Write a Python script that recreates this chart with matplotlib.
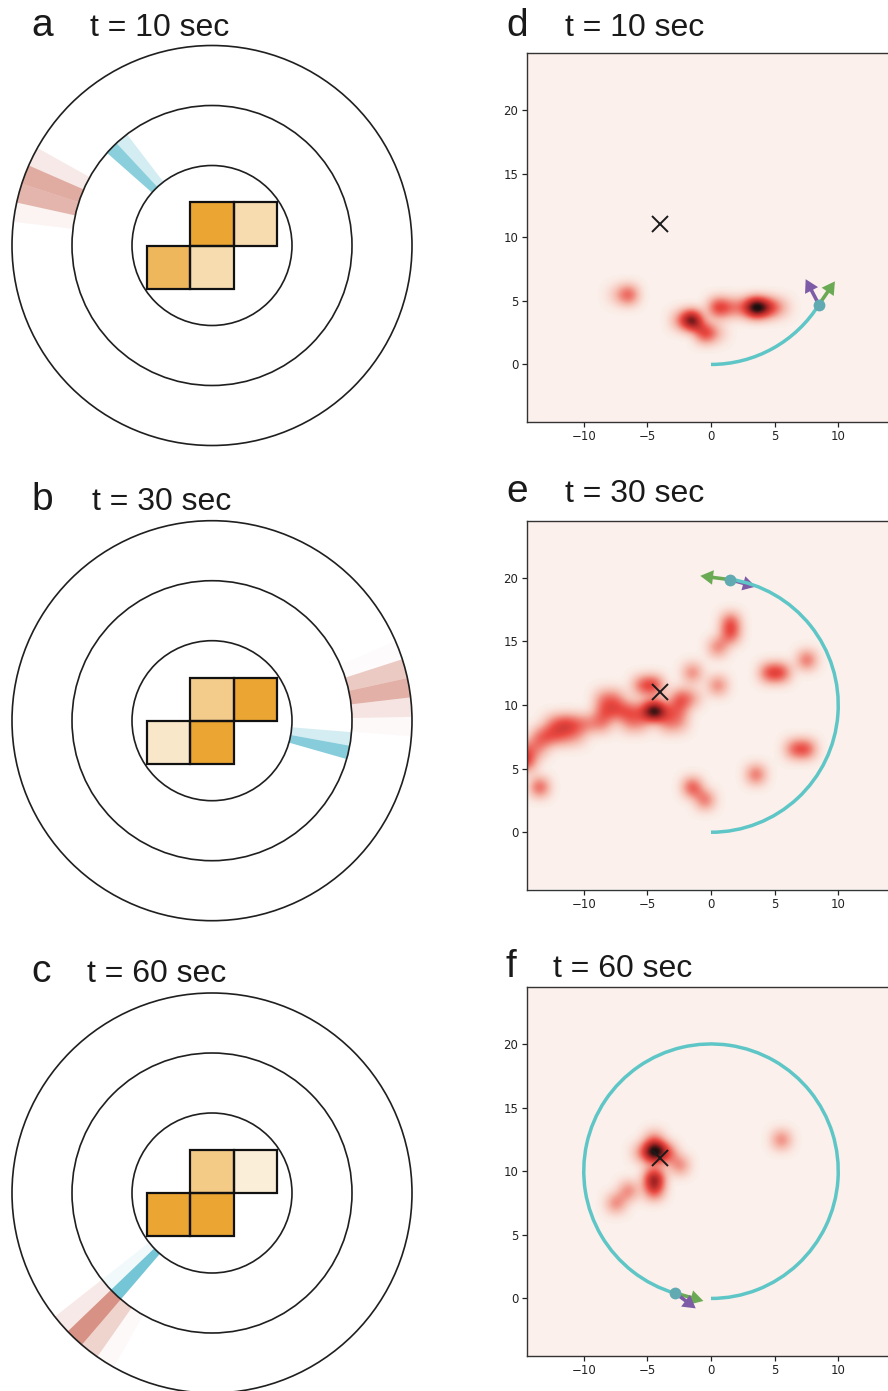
import numpy as np
import matplotlib
matplotlib.use('Agg')
import matplotlib.pyplot as plt
from matplotlib.patches import Circle, Rectangle, Wedge, Arc
from matplotlib.colors import LinearSegmentedColormap

# ---------------- data ----------------
time_labels = ['t = 10 sec', 't = 30 sec', 't = 60 sec']
left_letters = ['a', 'b', 'c']
right_letters = ['d', 'e', 'f']

ring_radii = [4, 7, 10]
square_size = 2.16
# lower-left corners of the four squares, in square units: top-mid, top-right, bottom-left, bottom-mid
square_cells = [(-0.5, 0), (0.5, 0), (-1.5, -1), (-0.5, -1)]
square_alpha = [[1.0, 0.39, 0.8, 0.39],
                [0.56, 1.0, 0.26, 1.0],
                [0.59, 0.19, 1.0, 1.0]]

bin_width = 5.6
blue_start = [127.4, -15.9, 218.2]
blue_alpha = [[0.22, 0.60], [0.63, 0.22], [0.07, 0.72]]
red_start = [150.8, -4.5, 218.2]
red_alpha = [[0.12, 0.48, 0.42, 0.06],
             [0.03, 0.15, 0.45, 0.30, 0.02],
             [0.12, 0.62, 0.25, 0.03]]

# heat-map cells (x centre, y centre, value)
heat_d_x = [-7.5, -6.5, 0.5, 1.5, 2.5, 3.5, 4.5, 5.5, -2.5, -1.5, -0.5, 0.5]
heat_d_y = [5.5, 5.5, 4.5, 4.5, 4.5, 4.5, 4.5, 4.5, 3.5, 3.5, 2.5, 2.5]
heat_d_v = [0.12, 0.42, 0.5, 0.28, 0.28, 0.95, 0.5, 0.18, 0.25, 0.85, 0.5, 0.15]

heat_e_x = [-13.5, -14.5, -14.5, -13.5, -13.5, -12.5, -12.5, -11.5, -11.5, -10.5, -10.5,
            -9.5, -8.5, -8.5, -8.5, -7.5, -7.5, -6.5, -6.5, -5.5, -5.5, -4.5,
            -5.5, -4.5, -3.5, -3.5, -2.5, -2.5, -1.5, -2.5,
            -1.5, 0.5, 0.5, 1.5, 1.5, 4.5, 5.5, 7.5, 6.5, 7.5, 3.5, -1.5, -0.5]
heat_e_y = [3.5, 5.5, 6.5, 6.5, 7.5, 7.5, 8.5, 8.5, 7.5, 8.5, 7.5,
            8.5, 8.5, 9.5, 10.5, 9.5, 10.5, 9.5, 8.5, 9.5, 8.5, 9.5,
            11.5, 11.5, 8.5, 9.5, 9.5, 10.5, 10.5, 8.5,
            12.5, 11.5, 14.5, 15.5, 16.5, 12.5, 12.5, 13.5, 6.5, 6.5, 4.5, 3.5, 2.5]
heat_e_v = [0.42, 0.4, 0.25, 0.2, 0.3, 0.32, 0.25, 0.38, 0.25, 0.28, 0.18,
            0.22, 0.26, 0.3, 0.24, 0.32, 0.25, 0.32, 0.22, 0.26, 0.2, 0.9,
            0.35, 0.45, 0.24, 0.26, 0.26, 0.36, 0.22, 0.2,
            0.32, 0.32, 0.32, 0.4, 0.4, 0.42, 0.42, 0.38, 0.36, 0.4, 0.38, 0.45, 0.36]

heat_f_x = [-4.5, -4.5, -5.5, -3.5, -2.5, -4.5, -4.5, -6.5, -7.5, 5.5]
heat_f_y = [12.5, 11.5, 11.5, 11.5, 10.5, 9.5, 8.5, 8.5, 7.5, 12.5]
heat_f_v = [0.3, 0.9, 0.25, 0.42, 0.32, 0.7, 0.45, 0.32, 0.32, 0.33]

heat_x = [heat_d_x, heat_e_x, heat_f_x]
heat_y = [heat_d_y, heat_e_y, heat_f_y]
heat_v = [heat_d_v, heat_e_v, heat_f_v]

goal_xy = (-4, 11)
traj_center = (0, 10)
traj_radius = 10
traj_start = -90
traj_end = [-32, 81.5, 253.5]
dot_xy = [(8.48, 4.7), (1.51, 19.85), (-2.8, 0.42)]
green_vec = [(1.26, 1.83), (-2.35, 0.3), (2.2, -0.62)]
purple_vec = [(-1.04, 2.0), (2.0, -0.55), (1.6, -1.2)]

x_ticks = [-10, -5, 0, 5, 10]
y_ticks = [0, 5, 10, 15, 20]

# ---------------- styling ----------------
W, H = 888, 1391
fig = plt.figure(figsize=(W / 100, H / 100), dpi=100)
TITLE_FONT = ['Liberation Sans', 'DejaVu Sans']

orange = '#EBA532'
blue = '#3FAFC6'
red = '#C0503A'
cyan = '#5EC6C6'
dot_col = '#62AAB2'
green = '#6AAA55'
purple = '#7D5BA6'

cmap = LinearSegmentedColormap.from_list(
    'heat', [(0.0, '#FBF0EB'), (0.2, '#F5B9AC'), (0.5, '#EA4A42'),
             (0.75, '#A82424'), (1.0, '#1E1010')])
heat_vmax = 0.5


def px_axes(x0, y0, x1, y1):
    return fig.add_axes([x0 / W, 1 - y1 / H, (x1 - x0) / W, (y1 - y0) / H])


def fig_text(x, y, s, size):
    fig.text(x / W, 1 - y / H, s, fontsize=size, family=TITLE_FONT,
             ha='left', va='baseline', color='#1a1a1a')


left_centres = [245.5, 720.7, 1193.0]
px_per_unit = 20.0
half = 212
for k in range(3):
    cy = left_centres[k]
    ax = px_axes(212 - half, cy - half, 212 + half, cy + half)
    lim = half / px_per_unit
    ax.set_xlim(-lim, lim)
    ax.set_ylim(-lim, lim)
    ax.set_aspect('equal')
    ax.axis('off')
    for i, a in enumerate(blue_alpha[k]):
        t1 = blue_start[k] + i * bin_width
        ax.add_patch(Wedge((0, 0), ring_radii[1], t1, t1 + bin_width,
                           width=ring_radii[1] - ring_radii[0],
                           facecolor=blue, alpha=a, lw=0))
    for i, a in enumerate(red_alpha[k]):
        t1 = red_start[k] + i * bin_width
        ax.add_patch(Wedge((0, 0), ring_radii[2], t1, t1 + bin_width,
                           width=ring_radii[2] - ring_radii[1],
                           facecolor=red, alpha=a, lw=0))
    for r in ring_radii:
        ax.add_patch(Circle((0, 0), r, fill=False, ec='#1f1f1f', lw=1.2, zorder=3))
    for (cx, cyy), a in zip(square_cells, square_alpha[k]):
        ax.add_patch(Rectangle((cx * square_size, cyy * square_size), square_size,
                               square_size, facecolor=orange, alpha=a, lw=0, zorder=4))
        ax.add_patch(Rectangle((cx * square_size, cyy * square_size), square_size,
                               square_size, fill=False, ec='#111111', lw=1.6, zorder=5))

# right panels
right_tops = [52.7, 520.5, 986.7]
xc = np.arange(-14.5, 15, 1.0)
yc = np.arange(-4.5, 25, 1.0)
for k in range(3):
    top = right_tops[k]
    ax = px_axes(526, top, 896, top + 369)
    grid = np.zeros((len(yc), len(xc)))
    for x, y, v in zip(heat_x[k], heat_y[k], heat_v[k]):
        grid[int(round(y + 4.5)), int(round(x + 14.5))] = v
    ax.imshow(grid, cmap=cmap, vmin=0, vmax=heat_vmax, origin='lower',
              extent=[-15, 15, -5, 25], interpolation='bicubic',
              interpolation_stage='data', zorder=1)
    ax.set_xlim(-14.5, 14.5)
    ax.set_ylim(-4.5, 24.5)
    ax.set_aspect('equal')
    ax.add_patch(Arc(traj_center, 2 * traj_radius, 2 * traj_radius,
                     theta1=traj_start, theta2=traj_end[k], color=cyan, lw=2.5, zorder=4))
    dx0, dy0 = dot_xy[k]
    ax.arrow(dx0, dy0, *green_vec[k], width=0.28, head_width=1.15, head_length=1.0,
             length_includes_head=True, color=green, lw=0, zorder=3)
    ax.arrow(dx0, dy0, *purple_vec[k], width=0.28, head_width=1.15, head_length=1.0,
             length_includes_head=True, color=purple, lw=0, zorder=3.5)
    ax.plot([dx0], [dy0], 'o', color=dot_col, ms=8.5, mec='none', zorder=5)
    ax.plot([goal_xy[0]], [goal_xy[1]], 'x', color='#1a1a1a', ms=12, mew=1.4, zorder=6)
    ax.set_xticks(x_ticks)
    ax.set_yticks(y_ticks)
    ax.tick_params(labelsize=8.5, length=3.5, width=0.9, colors='#222222', pad=2.5)
    for sp in ax.spines.values():
        sp.set_color('#333333')
        sp.set_linewidth(1.0)

# labels
left_base = [36, 510, 982]
title_x_left = [90, 92, 87]
right_base = [36, 502, 977]
title_x_right = [565, 565, 553]
for k in range(3):
    fig_text(31, left_base[k], left_letters[k], 28)
    fig_text(title_x_left[k], left_base[k], time_labels[k], 23)
    fig_text(506, right_base[k], right_letters[k], 28)
    fig_text(title_x_right[k], right_base[k], time_labels[k], 23)

fig.savefig('out.png', dpi=100)
